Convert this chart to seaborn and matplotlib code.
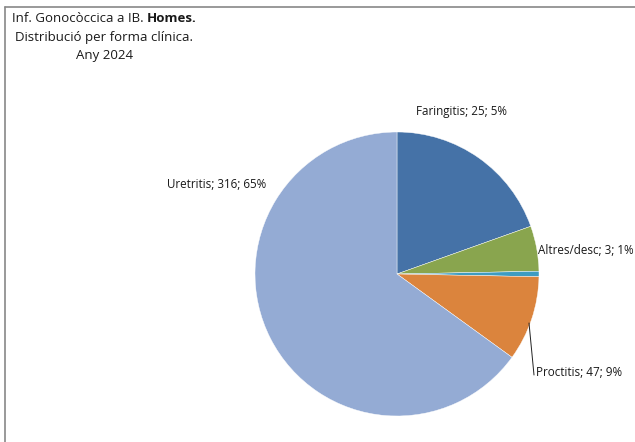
import numpy as np
import matplotlib
matplotlib.use("Agg")
import matplotlib.pyplot as plt
import seaborn as sns

# slices in drawing order (clockwise from 12 o'clock)
categories = ["(sense etiqueta)", "Faringitis", "Altres/desc", "Proctitis", "Uretritis"]
values = [95, 25, 3, 47, 316]
label_text = ["", "Faringitis; 25; 5%", "Altres/desc; 3; 1%", "Proctitis; 47; 9%", "Uretritis; 316; 65%"]
colors = ["#4572A7", "#89A54E", "#3D9CC2", "#DB843D", "#94ABD4"]

sns.set_theme(style="white")
plt.rcParams["font.family"] = ["Open Sans", "DejaVu Sans"]

W, H = 635, 442
fig = plt.figure(figsize=(W / 100, H / 100), dpi=100)

# chart frame (only top and left edges visible in the crop)
fig.add_artist(plt.Line2D([5 / W, 5 / W], [0, 1 - 7 / H], color="#888888", lw=1.2))
fig.add_artist(plt.Line2D([5 / W, 1], [1 - 7 / H, 1 - 7 / H], color="#888888", lw=1.2))

cx, cy, r = 397, 274, 142
ax = fig.add_axes([(cx - r) / W, (H - cy - r) / H, 2 * r / W, 2 * r / H])
ax.pie(values, colors=colors, startangle=90, counterclock=False,
       wedgeprops=dict(linewidth=0.3, edgecolor="white"))
ax.set_xlim(-1, 1)
ax.set_ylim(-1, 1)
ax.axis("off")

fs = 8.4
txt_col = "#1a1a1a"
def px(x, y):
    return (x - cx) / r, (cy - y) / r

ax.text(*px(461, 112), label_text[1], ha="center", va="center", fontsize=fs, color=txt_col, clip_on=False)
ax.text(*px(538, 251), label_text[2], ha="left", va="center", fontsize=fs, color=txt_col, clip_on=False)
ax.text(*px(536, 372), label_text[3], ha="left", va="center", fontsize=fs, color=txt_col, clip_on=False)
ax.text(*px(217, 185), label_text[4], ha="center", va="center", fontsize=fs, color=txt_col, clip_on=False)
x0, y0 = px(529, 323)
x1, y1 = px(534, 375)
ax.plot([x0, x1], [y0, y1], color="#222222", lw=0.7, clip_on=False)

# title, first line with bold part
tfs = 9.5
renderer = fig.canvas.get_renderer()
t1 = fig.text(0, 1 - 18 / H, "Inf. Gonocòccica a IB. ", fontsize=tfs, va="center", ha="left", color=txt_col)
t2 = fig.text(0, 1 - 18 / H, "Homes.", fontsize=tfs, fontweight="bold", va="center", ha="left", color=txt_col)
w1 = t1.get_window_extent(renderer).width
w2 = t2.get_window_extent(renderer).width
start = 104 - (w1 + w2) / 2
t1.set_x(start / W)
t2.set_x((start + w1) / W)
fig.text(104 / W, 1 - 37 / H, "Distribució per forma clínica.", fontsize=tfs, ha="center", va="center", color=txt_col)
fig.text(104 / W, 1 - 56 / H, "Any 2024", fontsize=tfs, ha="center", va="center", color=txt_col)

fig.savefig("out.png", dpi=100)
